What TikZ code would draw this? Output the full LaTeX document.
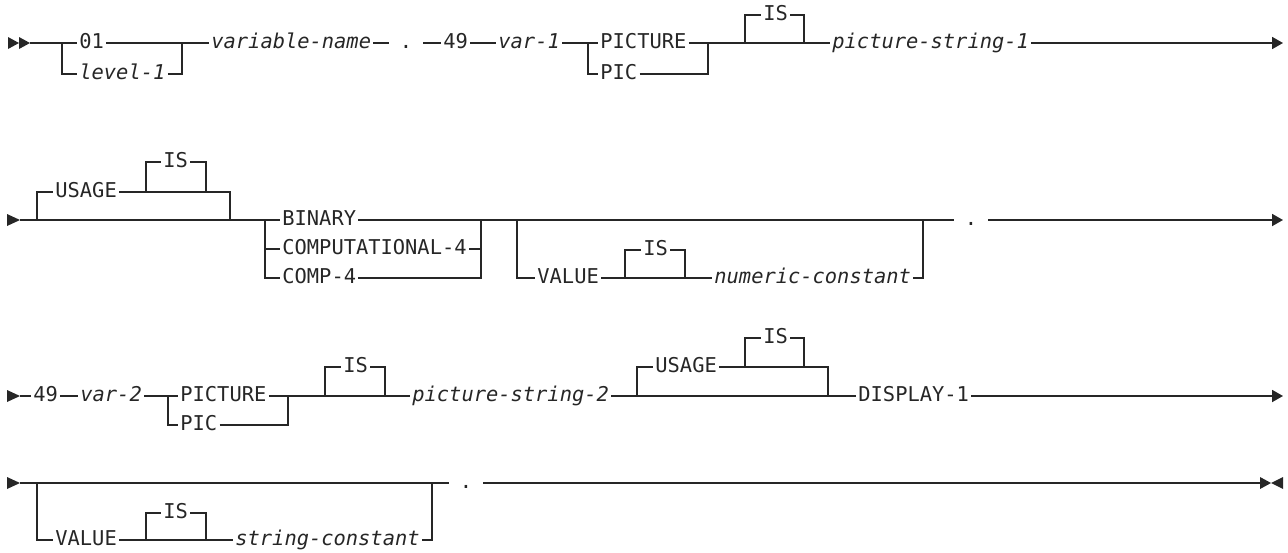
\documentclass[tikz,border=0pt]{standalone}
\usepackage{fontspec}
\setmainfont{DejaVu Sans Mono}
\usetikzlibrary{arrows.meta}

\tikzset{
  kw/.style={anchor=west, inner xsep=1pt, inner ysep=0pt, text height=7.6pt, text depth=2.6pt},
  var/.style={kw, font=\fontsize{10.2}{12}\selectfont\itshape},
  dotnode/.style={anchor=center, inner xsep=5.3pt, inner ysep=0pt, text height=7.6pt, text depth=2.6pt},
  rail/.style={line width=0.9pt},
  endtip/.style={-{Triangle[length=5.5pt,width=6pt]}}
}

\begin{document}
\begin{tikzpicture}[x=0.5pt,y=-0.5pt,font=\fontsize{10.2}{12}\selectfont,color=black!85]
\useasboundingbox (0,0) rectangle (1288,552);

% first line
\coordinate (S1) at (8,43);
\coordinate (S1e) at (30,43);
\coordinate (A1) at (62,43);
\node[kw] (N01) at (77,43) {01};
\node[var] (L1) at (77,74) {level-1};
\coordinate (B1) at (182,43);
\node[var] (VN) at (209,43) {variable-name};
\node[dotnode] (D1) at (406,43) {.};
\node[kw] (N49a) at (441,43) {49};
\node[var] (V1) at (496,43) {var-1};
\coordinate (A2) at (588,43);
\node[kw] (P1) at (598,43) {PICTURE};
\node[kw] (P1b) at (598,74) {PIC};
\coordinate (B2) at (708,43);
\coordinate (C1) at (745,43);
\node[kw] (I1) at (761,15) {IS};
\coordinate (E1c) at (804,43);
\node[var] (PS1) at (830,43) {picture-string-1};
\coordinate (E1) at (1283,43);

\fill (S1) ++(0,-6) -- ++(11,6) -- ++(-11,6) -- cycle;
\fill (S1) ++(11,-6) -- ++(11,6) -- ++(-11,6) -- cycle;
\draw[rail] (S1e) -- (A1) -- (N01) -- (B1) -- (VN) -- (D1);
\draw[rail] (A1) |- (L1) -| (B1);
\draw[rail] (D1) -- (N49a) -- (V1) -- (A2) -- (P1) -- (B2) -- (C1) -- (E1c) -- (PS1);
\draw[rail] (A2) |- (P1b) -| (B2);
\draw[rail] (C1) |- (I1) -| (E1c);
\draw[rail,endtip] (PS1) -- (E1);

% second line
\coordinate (S2) at (7,220);
\coordinate (S2e) at (20,220);
\coordinate (A3) at (37,220);
\node[kw] (U1) at (53,192) {USAGE};
\coordinate (C2) at (146,192);
\node[kw] (I2) at (161,162) {IS};
\coordinate (E2c) at (206,192);
\coordinate (B3) at (230,220);
\coordinate (A4) at (265,220);
\node[kw] (BIN) at (280,220) {BINARY};
\node[kw] (CMP) at (280,249) {COMPUTATIONAL-4};
\node[kw] (CMPb) at (280,278) {COMP-4};
\coordinate (B4) at (481,220);
\coordinate (A5) at (517,220);
\node[kw] (VAL1) at (535,278) {VALUE};
\coordinate (C3) at (625,278);
\node[kw] (I3) at (641,250) {IS};
\coordinate (E3c) at (685,278);
\node[var] (NC) at (712,278) {numeric-constant};
\coordinate (B5) at (923,220);
\node[dotnode] (D2) at (971,220) {.};
\coordinate (E2) at (1283,220);

\fill (S2) ++(0,-6) -- ++(13,6) -- ++(-13,6) -- cycle;
\draw[rail] (S2e) -- (A3) -- (B3) -- (A4) -- (BIN) -- (B4) -- (A5) -- (B5) -- (D2);
\draw[rail] (A3) |- (U1) -- (C2) -- (E2c) -| (B3);
\draw[rail] (C2) |- (I2) -| (E2c);
\draw[rail] (A4) |- (CMP) -| (B4);
\draw[rail] (A4) |- (CMPb) -| (B4);
\draw[rail] (A5) |- (VAL1) -- (C3) -- (E3c) -- (NC) -| (B5);
\draw[rail] (C3) |- (I3) -| (E3c);
\draw[rail,endtip] (D2) -- (E2);

% third line
\coordinate (S3) at (7,396);
\coordinate (S3e) at (20,396);
\node[kw] (N49b) at (31,396) {49};
\node[var] (V2) at (78,396) {var-2};
\coordinate (A6) at (168,396);
\node[kw] (P2) at (178,396) {PICTURE};
\node[kw] (P2b) at (178,425) {PIC};
\coordinate (B6) at (288,396);
\coordinate (C4) at (325,396);
\node[kw] (I4) at (341,367) {IS};
\coordinate (E4c) at (385,396);
\node[var] (PS2) at (410,396) {picture-string-2};
\coordinate (A7) at (637,396);
\node[kw] (U2) at (653,367) {USAGE};
\coordinate (C5) at (745,367);
\node[kw] (I5) at (761,338) {IS};
\coordinate (E5c) at (804,367);
\coordinate (B7) at (828,396);
\node[kw] (DSP) at (856,396) {DISPLAY-1};
\coordinate (E3) at (1283,396);

\fill (S3) ++(0,-6) -- ++(13,6) -- ++(-13,6) -- cycle;
\draw[rail] (S3e) -- (N49b) -- (V2) -- (A6) -- (P2) -- (B6) -- (C4) -- (E4c) -- (PS2) -- (A7) -- (B7) -- (DSP);
\draw[rail] (A6) |- (P2b) -| (B6);
\draw[rail] (C4) |- (I4) -| (E4c);
\draw[rail] (A7) |- (U2) -- (C5) -- (E5c) -| (B7);
\draw[rail] (C5) |- (I5) -| (E5c);
\draw[rail,endtip] (DSP) -- (E3);

% fourth line
\coordinate (S4) at (7,483);
\coordinate (S4e) at (20,483);
\coordinate (A8) at (37,483);
\node[kw] (VAL2) at (53,540) {VALUE};
\coordinate (C6) at (146,540);
\node[kw] (I6) at (161,513) {IS};
\coordinate (E6c) at (206,540);
\node[var] (SC) at (233,540) {string-constant};
\coordinate (B8) at (432,483);
\node[dotnode] (D3) at (466,483) {.};
\coordinate (E4) at (1260,483);

\fill (S4) ++(0,-6) -- ++(13,6) -- ++(-13,6) -- cycle;
\draw[rail] (S4e) -- (A8) -- (B8) -- (D3);
\draw[rail] (A8) |- (VAL2) -- (C6) -- (E6c) -- (SC) -| (B8);
\draw[rail] (C6) |- (I6) -| (E6c);
\draw[rail] (D3) -- (E4);
\fill (E4) ++(0,-6) -- ++(11,6) -- ++(-11,6) -- cycle;
\fill (E4) ++(23,-6) -- ++(-12,6) -- ++(12,6) -- cycle;
\end{tikzpicture}
\end{document}
